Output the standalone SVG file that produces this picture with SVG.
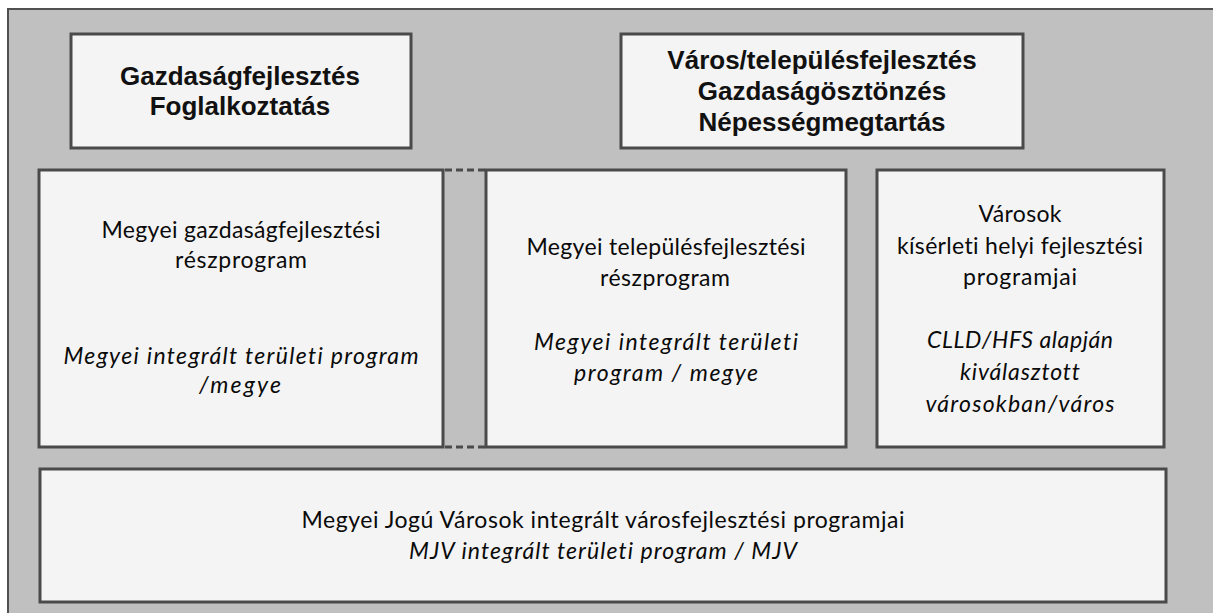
<svg xmlns="http://www.w3.org/2000/svg" width="1213" height="613" viewBox="0 0 1213 613">
<style>
.bg{fill:#ffffff}
.outer{fill:#c0c0c0;stroke:#505050;stroke-width:2}
.box{fill:#f4f4f4;stroke:#4a4a4a;stroke-width:3}
.hd{font-family:"Liberation Sans",Arial,sans-serif;font-weight:bold;font-size:26px;fill:#111;text-anchor:middle}
.tx{font-family:Lato,"Open Sans",sans-serif;font-size:23px;fill:#0a0a0a;text-anchor:middle;font-variant-ligatures:none;font-feature-settings:"liga" 0}
.it{font-style:italic}
.dash{stroke:#4a4a4a;stroke-width:3;stroke-dasharray:7 4;fill:none}
</style>
<rect class="bg" x="0" y="0" width="1213" height="613"/>
<rect class="outer" x="8" y="9" width="1220" height="620"/>
<g id="connectors">
<line class="dash" x1="445" y1="170" x2="485" y2="170"/>
<line class="dash" x1="445" y1="447" x2="485" y2="447"/>
</g>
<g id="node-gazdasag">
<rect class="box" x="71" y="34" width="340" height="114"/>
<text class="hd" x="240" y="85">Gazdaságfejlesztés</text>
<text class="hd" x="240" y="115">Foglalkoztatás</text>
</g>
<g id="node-varos">
<rect class="box" x="621" y="34" width="402" height="114"/>
<text class="hd" x="822" y="69">Város/településfejlesztés</text>
<text class="hd" x="822" y="100">Gazdaságösztönzés</text>
<text class="hd" x="822" y="131">Népességmegtartás</text>
</g>
<g id="node-megyei-gazdasag">
<rect class="box" x="39" y="170" width="404" height="277"/>
<text class="tx" x="241" y="238" textLength="279">Megyei gazdaságfejlesztési</text>
<text class="tx" x="241" y="268" textLength="132">részprogram</text>
<text class="tx it" x="241" y="364" textLength="355">Megyei integrált területi program</text>
<text class="tx it" x="240" y="393" textLength="82">/megye</text>
</g>
<g id="node-megyei-telepules">
<rect class="box" x="486" y="170" width="360" height="277"/>
<text class="tx" x="666" y="255" textLength="279">Megyei településfejlesztési</text>
<text class="tx" x="665" y="286" textLength="130">részprogram</text>
<text class="tx it" x="666" y="350" textLength="264">Megyei  integrált területi</text>
<text class="tx it" x="666" y="381" textLength="184">program / megye</text>
</g>
<g id="node-varosok">
<rect class="box" x="877" y="170" width="287" height="277"/>
<text class="tx" x="1020" y="222" textLength="83">Városok</text>
<text class="tx" x="1020" y="254" textLength="246">kísérleti helyi fejlesztési</text>
<text class="tx" x="1020" y="285" textLength="114">programjai</text>
<text class="tx it" x="1020" y="348" textLength="186">CLLD/HFS alapján</text>
<text class="tx it" x="1020" y="380" textLength="120">kiválasztott</text>
<text class="tx it" x="1020" y="412" textLength="189">városokban/város</text>
</g>
<g id="node-mjv">
<rect class="box" x="40" y="469" width="1126" height="133"/>
<text class="tx" x="603" y="528" textLength="603">Megyei Jogú Városok integrált városfejlesztési programjai</text>
<text class="tx it" x="603" y="559" textLength="388">MJV integrált területi program / MJV</text>
</g>
</svg>
